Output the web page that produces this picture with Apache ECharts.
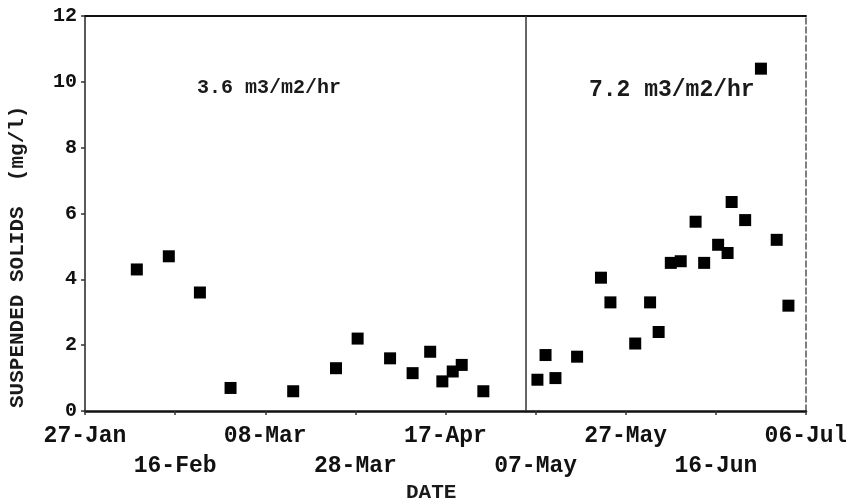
<!DOCTYPE html>
<html>
<head>
<meta charset="utf-8">
<script src="https://cdn.jsdelivr.net/npm/echarts@6/dist/echarts.min.js"></script>
<style>
html,body{margin:0;padding:0;background:#fff;}
#chart{width:846px;height:504px;}
</style>
</head>
<body>
<div id="chart"></div>
<script>
// Tick labels every 20 days starting 27-Jan
const tickLabels = ['27-Jan','16-Feb','08-Mar','28-Mar','17-Apr','07-May','27-May','16-Jun','06-Jul'];
// Days since 27-Jan for each sample
const sampleDays = [11.5, 18.6, 25.5, 32.3, 46.2, 55.7, 60.5, 67.7, 72.7, 76.6, 79.3, 81.6, 83.6, 88.4,
                    100.4, 102.2, 104.4, 109.2, 114.5, 116.6, 122.1, 125.4, 127.3, 130.0, 132.2, 135.5,
                    137.4, 140.5, 142.6, 143.5, 146.5, 150.0, 153.5, 156.1];
// Suspended solids (mg/l)
const suspendedSolids = [4.3, 4.7, 3.6, 0.7, 0.6, 1.3, 2.2, 1.6, 1.15, 1.8, 0.9, 1.2, 1.4, 0.6,
                         0.95, 1.7, 1.0, 1.65, 4.05, 3.3, 2.05, 3.3, 2.4, 4.5, 4.55, 5.75,
                         4.5, 5.05, 4.8, 6.35, 5.8, 10.4, 5.2, 3.2];
const rateChangeDay = 97.8; // change from 3.6 to 7.2 m3/m2/hr
const yTicks = [0, 2, 4, 6, 8, 10, 12];

const FONT = '"Liberation Mono", "DejaVu Sans Mono", monospace';
const points = sampleDays.map((d, i) => [d, suspendedSolids[i]]);

const chart = echarts.init(document.getElementById('chart'), null, {renderer: 'canvas'});
chart.setOption({
  animation: false,
  backgroundColor: '#ffffff',
  grid: {left: 85, right: 40, top: 16, bottom: 93, containLabel: false, outerBoundsMode: 'none'},
  xAxis: [{
    type: 'value', min: 0, max: 160, interval: 20,
    axisLine: {show: true, onZero: false, lineStyle: {color: '#111', width: 2.5}},
    axisTick: {show: true, length: 4, lineStyle: {color: '#333', width: 1.5}},
    splitLine: {show: false},
    axisLabel: {
      show: true, margin: 10, fontFamily: FONT, fontWeight: 'bold', fontSize: 23,
      color: '#111', lineHeight: 30, verticalAlign: 'top',
      showMinLabel: true, showMaxLabel: true, hideOverlap: false,
      formatter: function (v) {
        const i = Math.round(v / 20);
        const t = tickLabels[i] || '';
        return i % 2 === 1 ? '\n' + t : t;
      }
    }
  }, {
    type: 'value', min: 0, max: 160, position: 'top',
    axisLine: {show: true, onZero: false, lineStyle: {color: '#111', width: 2}},
    axisTick: {show: false}, axisLabel: {show: false}, splitLine: {show: false}
  }],
  yAxis: [{
    type: 'value', min: 0, max: 12, interval: 2,
    axisLine: {show: true, onZero: false, lineStyle: {color: '#222', width: 1.5}},
    axisTick: {show: true, length: 4, inside: false, lineStyle: {color: '#333', width: 1.5}},
    splitLine: {show: false},
    axisLabel: {
      margin: 8, fontFamily: FONT, fontWeight: 'bold', fontSize: 20, color: '#111',
      formatter: function (v) { return yTicks.indexOf(v) >= 0 ? String(v) : ''; }
    }
  }, {
    type: 'value', min: 0, max: 12, position: 'right',
    axisLine: {show: true, onZero: false, lineStyle: {color: '#555', width: 1.5, type: [6, 3]}},
    axisTick: {show: false}, axisLabel: {show: false}, splitLine: {show: false}
  }],
  series: [{
    type: 'scatter',
    data: points,
    symbol: 'rect',
    symbolSize: 12,
    itemStyle: {color: '#000', opacity: 1},
    markLine: {
      silent: true, symbol: 'none', label: {show: false},
      lineStyle: {color: '#333', width: 1.5, type: 'solid'},
      data: [{xAxis: rateChangeDay}]
    }
  }],
  graphic: [
    {type: 'text', left: 197, top: 78, style: {text: '3.6 m3/m2/hr', font: 'bold 20px ' + FONT, fill: '#1a1a1a'}},
    {type: 'text', left: 589, top: 79, style: {text: '7.2 m3/m2/hr', font: 'bold 23px ' + FONT, fill: '#1a1a1a'}},
    {type: 'text', left: 406, top: 482, style: {text: 'DATE', font: 'bold 21px ' + FONT, fill: '#1a1a1a'}},
    {type: 'text', x: 7, y: 408, rotation: Math.PI / 2,
     style: {text: 'SUSPENDED SOLIDS  (mg/l)', font: 'bold 21px ' + FONT, fill: '#1a1a1a', align: 'left', verticalAlign: 'top'}}
  ]
});
</script>
</body>
</html>
